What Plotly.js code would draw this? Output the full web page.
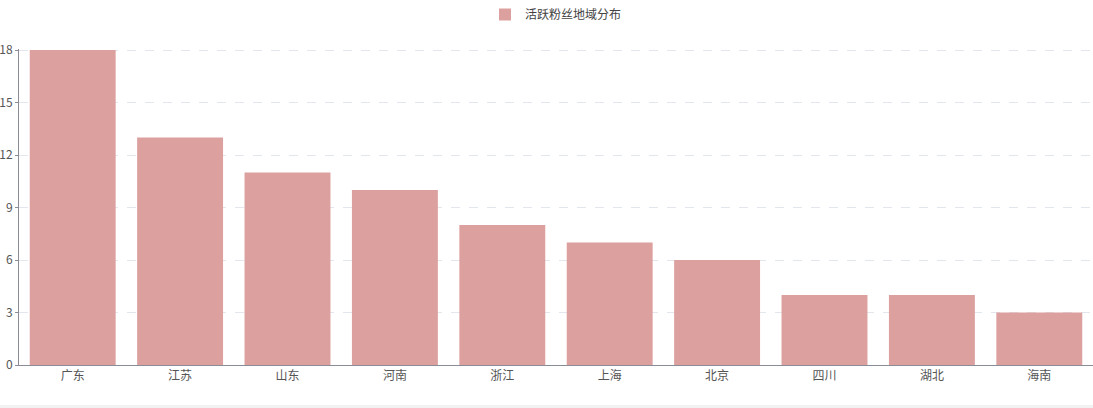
<!DOCTYPE html>
<html><head><meta charset="utf-8">
<script src="https://cdn.plot.ly/plotly-3.0.1.min.js"></script>
<style>html,body{margin:0;padding:0;background:#f2f2f2;}#chart{width:1093px;height:405px;background:#fff;}</style>
</head><body><div id="chart"></div>
<script>
const seriesName = '活跃粉丝地域分布';
const categories = ['广东','江苏','山东','河南','浙江','上海','北京','四川','湖北','海南'];
const values = [18,13,11,10,8,7,6,4,4,3];
const yTicks = [0,3,6,9,12,15,18];

const font = "'Noto Sans CJK SC', 'Noto Sans', sans-serif";
Plotly.newPlot('chart', [{
  type:'bar', x:categories, y:values, name:seriesName,
  marker:{color:'#dca09f'}, showlegend:true, hoverinfo:'x+y'
}], {
  width:1093, height:405,
  margin:{l:19, r:0, t:49, b:40},
  paper_bgcolor:'#fff', plot_bgcolor:'#fff',
  font:{family:font, size:12, color:'#555'},
  bargap:0.2,
  showlegend:true,
  legend:{orientation:'h', x:0.5, xanchor:'center', y:1, yanchor:'top', yref:'container', font:{size:12,color:'#444'}, itemwidth:30},
  xaxis:{type:'category', showline:true, linecolor:'#8a8d96', linewidth:1, ticks:'', showgrid:false, tickfont:{size:12,color:'#555'}, fixedrange:true},
  yaxis:{range:[0,18.06], tickvals:yTicks, showline:true, linecolor:'#8a8d96', ticks:'outside', ticklen:3, tickcolor:'#8a8d96',
    showgrid:true, gridcolor:'#e3e6ec', griddash:'dash', zeroline:false, tickfont:{size:12,color:'#555'}, fixedrange:true}
}, {displayModeBar:false});
</script></body></html>
